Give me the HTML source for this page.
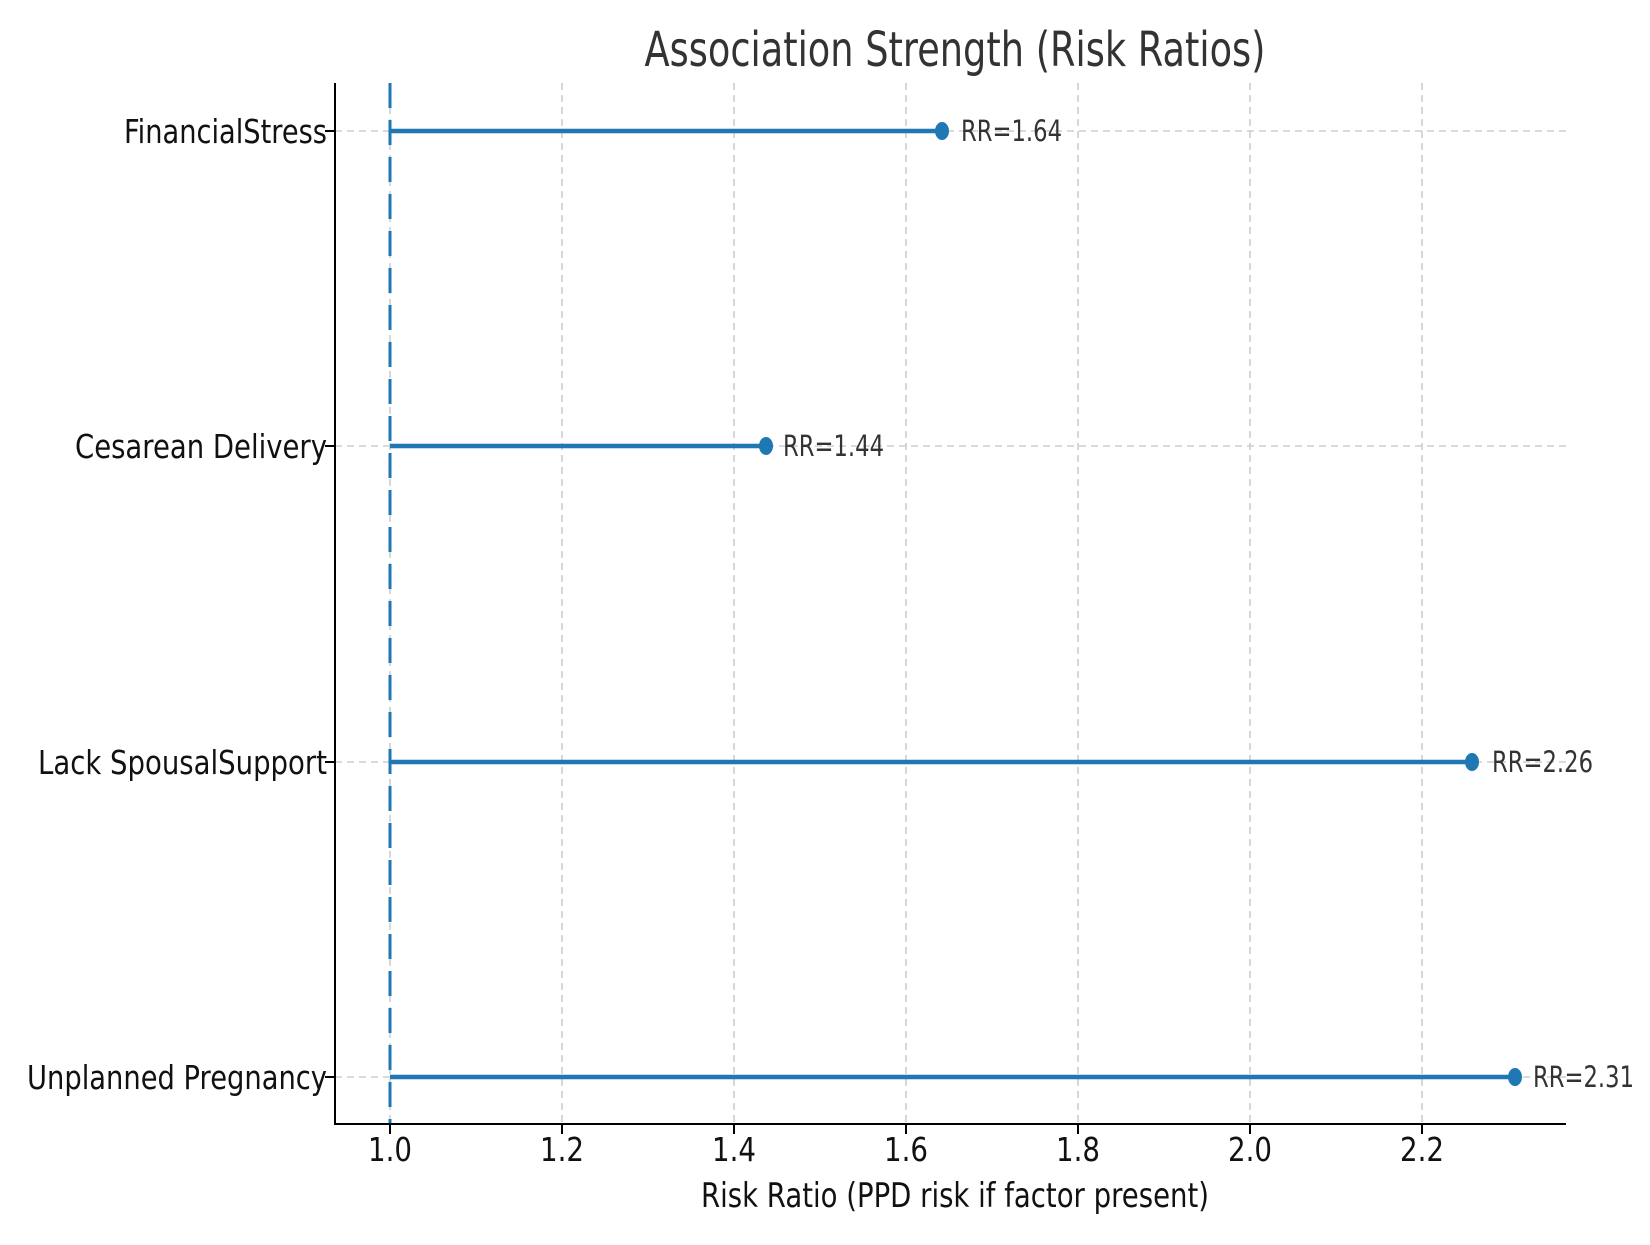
<!DOCTYPE html>
<html><head><meta charset="utf-8"><style>html,body{margin:0;padding:0;background:#fff}svg{display:block}</style></head>
<body>
<svg width="1650" height="1245" viewBox="0 0 1650 1245" xmlns="http://www.w3.org/2000/svg" font-family="DejaVu Sans, Liberation Sans, sans-serif">
<rect width="1650" height="1245" fill="#fff"/>
<g stroke="#c4c4c4" stroke-width="1.3" stroke-dasharray="7,5">
<line x1="390" y1="83" x2="390" y2="1124"/>
<line x1="562" y1="83" x2="562" y2="1124"/>
<line x1="734" y1="83" x2="734" y2="1124"/>
<line x1="906" y1="83" x2="906" y2="1124"/>
<line x1="1078" y1="83" x2="1078" y2="1124"/>
<line x1="1250" y1="83" x2="1250" y2="1124"/>
<line x1="1422" y1="83" x2="1422" y2="1124"/>
<line x1="335" y1="131" x2="1566" y2="131"/>
<line x1="335" y1="446" x2="1566" y2="446"/>
<line x1="335" y1="762" x2="1566" y2="762"/>
<line x1="335" y1="1077" x2="1566" y2="1077"/>
</g>
<g stroke="#1f77b4" stroke-width="4.5">
<line x1="390" y1="131" x2="941" y2="131"/>
<line x1="390" y1="446" x2="769" y2="446"/>
<line x1="390" y1="762" x2="1474" y2="762"/>
<line x1="390" y1="1077" x2="1517" y2="1077"/>
</g>
<line x1="390" y1="83" x2="390" y2="1124" stroke="#1f77b4" stroke-width="3" stroke-dasharray="25,12"/>
<g fill="#1f77b4">
<ellipse cx="942" cy="131" rx="7" ry="9"/>
<ellipse cx="766" cy="446" rx="7" ry="9"/>
<ellipse cx="1472" cy="762" rx="7" ry="9"/>
<ellipse cx="1515" cy="1077" rx="7" ry="9"/>
</g>
<g stroke="#000" stroke-width="2">
<line x1="335" y1="83" x2="335" y2="1125"/>
<line x1="334" y1="1124" x2="1566" y2="1124"/>
<line x1="325" y1="131" x2="335" y2="131"/>
<line x1="325" y1="446" x2="335" y2="446"/>
<line x1="325" y1="762" x2="335" y2="762"/>
<line x1="325" y1="1077" x2="335" y2="1077"/>
<line x1="390" y1="1124" x2="390" y2="1134"/>
<line x1="562" y1="1124" x2="562" y2="1134"/>
<line x1="734" y1="1124" x2="734" y2="1134"/>
<line x1="906" y1="1124" x2="906" y2="1134"/>
<line x1="1078" y1="1124" x2="1078" y2="1134"/>
<line x1="1250" y1="1124" x2="1250" y2="1134"/>
<line x1="1422" y1="1124" x2="1422" y2="1134"/>
</g>
<g font-size="33" fill="#111" text-anchor="end">
<text x="327" y="143" textLength="203" lengthAdjust="spacingAndGlyphs">FinancialStress</text>
<text x="327" y="458" textLength="252" lengthAdjust="spacingAndGlyphs">Cesarean Delivery</text>
<text x="327" y="774" textLength="289" lengthAdjust="spacingAndGlyphs">Lack SpousalSupport</text>
<text x="327" y="1089" textLength="300" lengthAdjust="spacingAndGlyphs">Unplanned Pregnancy</text>
</g>
<g font-size="33" fill="#111" text-anchor="middle">
<text x="390" y="1161" textLength="44" lengthAdjust="spacingAndGlyphs">1.0</text>
<text x="562" y="1161" textLength="44" lengthAdjust="spacingAndGlyphs">1.2</text>
<text x="734" y="1161" textLength="44" lengthAdjust="spacingAndGlyphs">1.4</text>
<text x="906" y="1161" textLength="44" lengthAdjust="spacingAndGlyphs">1.6</text>
<text x="1078" y="1161" textLength="44" lengthAdjust="spacingAndGlyphs">1.8</text>
<text x="1250" y="1161" textLength="44" lengthAdjust="spacingAndGlyphs">2.0</text>
<text x="1422" y="1161" textLength="44" lengthAdjust="spacingAndGlyphs">2.2</text>
<text x="955" y="1207" font-size="34" textLength="508" lengthAdjust="spacingAndGlyphs">Risk Ratio (PPD risk if factor present)</text>
<text x="955" y="66" font-size="48" fill="#333" textLength="621" lengthAdjust="spacingAndGlyphs">Association Strength (Risk Ratios)</text>
</g>
<g font-size="29" fill="#333">
<text x="961" y="141" textLength="101" lengthAdjust="spacingAndGlyphs">RR=1.64</text>
<text x="783" y="456" textLength="101" lengthAdjust="spacingAndGlyphs">RR=1.44</text>
<text x="1492" y="772" textLength="101" lengthAdjust="spacingAndGlyphs">RR=2.26</text>
<text x="1533" y="1087" textLength="101" lengthAdjust="spacingAndGlyphs">RR=2.31</text>
</g>
</svg>
</body></html>
